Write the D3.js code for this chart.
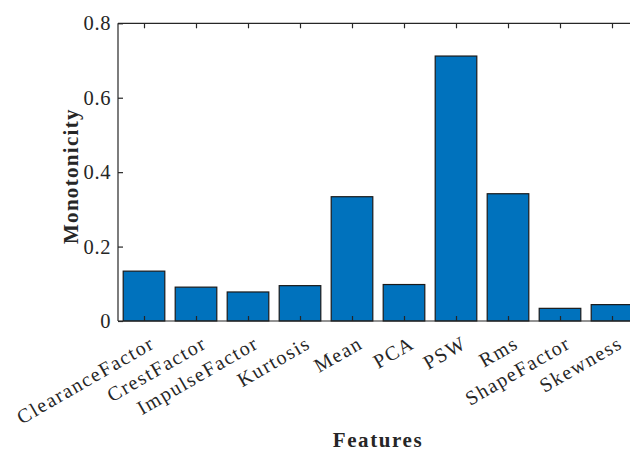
<!DOCTYPE html>
<html><head><meta charset="utf-8">
<script src="https://cdn.jsdelivr.net/npm/d3@7/dist/d3.min.js"></script>
<style>body{margin:0;background:#fff}svg{display:block}text{font-family:"Liberation Serif","DejaVu Serif",serif;fill:#262626}</style>
</head><body><svg id="c" width="630" height="452"></svg>
<script>
const categories = ["ClearanceFactor","CrestFactor","ImpulseFactor","Kurtosis","Mean","PCA","PSW","Rms","ShapeFactor","Skewness"];
const values = [0.134, 0.091, 0.078, 0.095, 0.334, 0.098, 0.712, 0.342, 0.034, 0.044];
const yTicks = [0, 0.2, 0.4, 0.6, 0.8];
const yTickLabels = ["0","0.2","0.4","0.6","0.8"];
const xLabel = "Features", yLabel = "Monotonicity";

const svg = d3.select("#c");
const L = 118, R = 638, T = 23.3, B = 321;
const x = d3.scaleLinear().domain([0.5, categories.length + 0.5]).range([L, R]);
const y = d3.scaleLinear().domain([0, 0.8]).range([B, T]);
const bw = x(1.4) - x(0.6);
const axisColor = "#262626";

// bars
svg.append("g").selectAll("rect").data(values).join("rect")
  .attr("x", (d, i) => x(i + 1) - bw / 2)
  .attr("y", d => y(d))
  .attr("width", bw)
  .attr("height", d => y(0) - y(d))
  .attr("fill", "#0072BD")
  .attr("stroke", "#1a1a1a")
  .attr("stroke-width", 1.2);

// axes
const xAxis = d3.axisBottom(x).tickValues(d3.range(1, categories.length + 1)).tickSize(-5).tickFormat("");
const gx = svg.append("g").attr("transform", `translate(0,${B})`).call(xAxis);
const xTop = d3.axisTop(x).tickValues(d3.range(1, categories.length + 1)).tickSize(-5).tickFormat("");
const gxt = svg.append("g").attr("transform", `translate(0,${T})`).call(xTop);
const yAxis = d3.axisLeft(y).tickValues(yTicks).tickSize(-5).tickFormat((d, i) => yTickLabels[i]).tickPadding(7);
const gy = svg.append("g").attr("transform", `translate(${L},0)`).call(yAxis);
[gx, gxt, gy].forEach(g => {
  g.select(".domain").attr("stroke", axisColor).attr("stroke-width", 1.2);
  g.selectAll(".tick line").attr("stroke", axisColor).attr("stroke-width", 1.2);
});
gx.select(".domain").attr("d", `M${L},0H${R}`);
gxt.select(".domain").attr("d", `M${L},0H${R}`);
gy.select(".domain").attr("d", `M0,${B}V${T}`);
gy.selectAll(".tick text").attr("font-size", 20.5).attr("font-family", '"Liberation Serif",serif')
  .attr("fill", axisColor).attr("letter-spacing", "0.6px");

// rotated category labels
svg.append("g").selectAll("text").data(categories).join("text")
  .attr("transform", (d, i) => `translate(${x(i + 1) + 5},${B + 14}) rotate(-30)`)
  .attr("text-anchor", "end")
  .attr("dy", "0.7em")
  .attr("font-size", 20)
  .attr("letter-spacing", "1.6px")
  .text(d => d);

svg.append("text").attr("x", (L + R) / 2).attr("y", 447).attr("text-anchor", "middle")
  .attr("font-size", 21).attr("font-weight", "bold").attr("letter-spacing", "1.6px").text(xLabel);
svg.append("text").attr("transform", `translate(78,${(T + B) / 2 + 4}) rotate(-90)`).attr("text-anchor", "middle")
  .attr("font-size", 21).attr("font-weight", "bold").attr("letter-spacing", "1.3px").text(yLabel);
</script></body></html>
